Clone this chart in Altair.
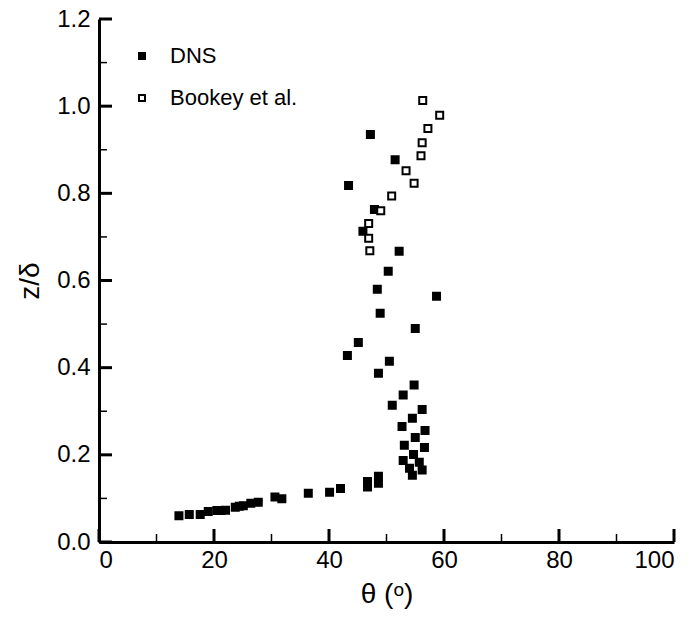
import altair as alt
import pandas as pd

# DNS data (theta in degrees, z/delta)
dns_theta = [13.9, 15.7, 17.6, 19.0, 20.5, 21.2, 22.0, 23.7, 24.4, 25.1, 26.4, 27.7,
             30.6, 31.8, 36.4, 40.1, 42.0, 46.7, 46.7, 48.6, 48.6, 54.5, 56.2, 54.0,
             55.7, 52.9, 54.7, 56.6, 53.1, 55.0, 56.7, 52.7, 54.5, 56.2, 51.0, 52.9,
             54.8, 48.6, 50.5, 43.2, 45.1, 55.0, 48.9, 58.7, 48.4, 50.3, 52.2, 45.9,
             47.9, 43.4, 51.5, 47.2]
dns_z = [0.060, 0.063, 0.063, 0.070, 0.072, 0.072, 0.073, 0.080, 0.082, 0.083, 0.089, 0.091,
         0.103, 0.099, 0.112, 0.114, 0.123, 0.126, 0.139, 0.135, 0.151, 0.153, 0.165, 0.169,
         0.183, 0.187, 0.201, 0.217, 0.222, 0.240, 0.256, 0.265, 0.284, 0.304, 0.314, 0.337,
         0.360, 0.387, 0.415, 0.428, 0.458, 0.490, 0.525, 0.564, 0.580, 0.621, 0.667, 0.713,
         0.763, 0.818, 0.877, 0.935]

# Bookey et al. data
bookey_theta = [56.3, 59.25, 57.2, 56.2, 56.0, 53.4, 54.8, 50.9, 49.0, 46.9, 46.9, 47.1]
bookey_z = [1.013, 0.979, 0.949, 0.916, 0.886, 0.852, 0.823, 0.794, 0.760, 0.731, 0.697, 0.668]

series_names = ["DNS", "Bookey et al."]

x_major = [0, 20, 40, 60, 80, 100]
x_minor = [10, 30, 50, 70, 90]
y_major = [0.0, 0.2, 0.4, 0.6, 0.8, 1.0, 1.2]
y_minor = [0.1, 0.3, 0.5, 0.7, 0.9, 1.1]

W, H = 575, 523
FONT = "Liberation Sans"

df = pd.concat([
    pd.DataFrame({"theta": dns_theta, "z": dns_z, "series": series_names[0]}),
    pd.DataFrame({"theta": bookey_theta, "z": bookey_z, "series": series_names[1]}),
])

xscale = alt.Scale(domain=[0, 100], nice=False, zero=False)
yscale = alt.Scale(domain=[0, 1.2], nice=False, zero=False)

xaxis = alt.Axis(title="θ (ᵒ)", values=x_major, grid=False, ticks=False,
                 domainWidth=3, domainColor="black", labelFontSize=24,
                 labelColor="black", labelPadding=6, labelFont=FONT,
                 titleFont=FONT, titleFontSize=28, titleFontWeight="normal",
                 titleColor="black", titlePadding=8)
yaxis = alt.Axis(title="z/δ", values=y_major, format=".1f", grid=False, ticks=False,
                 domainWidth=3, domainColor="black", labelFontSize=24,
                 labelColor="black", labelPadding=9, labelFont=FONT,
                 titleFont=FONT, titleFontSize=28, titleFontWeight="normal",
                 titleColor="black", titlePadding=12)

points = alt.Chart(df).mark_point(
    shape="square", filled=True, size=49, strokeWidth=2, opacity=1
).encode(
    x=alt.X("theta:Q", scale=xscale, axis=xaxis),
    y=alt.Y("z:Q", scale=yscale, axis=yaxis),
    fill=alt.Fill("series:N", scale=alt.Scale(domain=series_names, range=["black", "white"]),
                  legend=alt.Legend(title=None, orient="none", legendX=32, legendY=26,
                                    symbolType="square", symbolSize=36, symbolStrokeWidth=2,
                                    symbolStrokeColor="black",
                                    labelFontSize=22, labelFont=FONT, labelColor="black",
                                    labelOffset=17, rowPadding=20)),
    stroke=alt.Stroke("series:N", scale=alt.Scale(domain=series_names, range=["black", "black"]),
                      legend=None),
)

ymaj = alt.Chart(pd.DataFrame({"z": y_major})).mark_rule(color="black", strokeWidth=3).encode(
    y=alt.Y("z:Q", scale=yscale), x=alt.value(0), x2=alt.value(13))
ymin = alt.Chart(pd.DataFrame({"z": y_minor})).mark_rule(color="black", strokeWidth=1.5).encode(
    y=alt.Y("z:Q", scale=yscale), x=alt.value(0), x2=alt.value(8))
xmaj = alt.Chart(pd.DataFrame({"theta": x_major})).mark_rule(color="black", strokeWidth=3).encode(
    x=alt.X("theta:Q", scale=xscale), y=alt.value(H), y2=alt.value(H - 13))
xmin = alt.Chart(pd.DataFrame({"theta": x_minor})).mark_rule(color="black", strokeWidth=1.5).encode(
    x=alt.X("theta:Q", scale=xscale), y=alt.value(H), y2=alt.value(H - 8))

chart = alt.layer(points, ymaj, ymin, xmaj, xmin).properties(
    width=W, height=H,
    autosize=alt.AutoSizeParams(type="none"),
    padding={"left": 99, "top": 19, "right": 26, "bottom": 78},
    background="white",
).configure_view(stroke=None)

chart.save("out.html", embed_options={"renderer": "svg", "actions": False})
